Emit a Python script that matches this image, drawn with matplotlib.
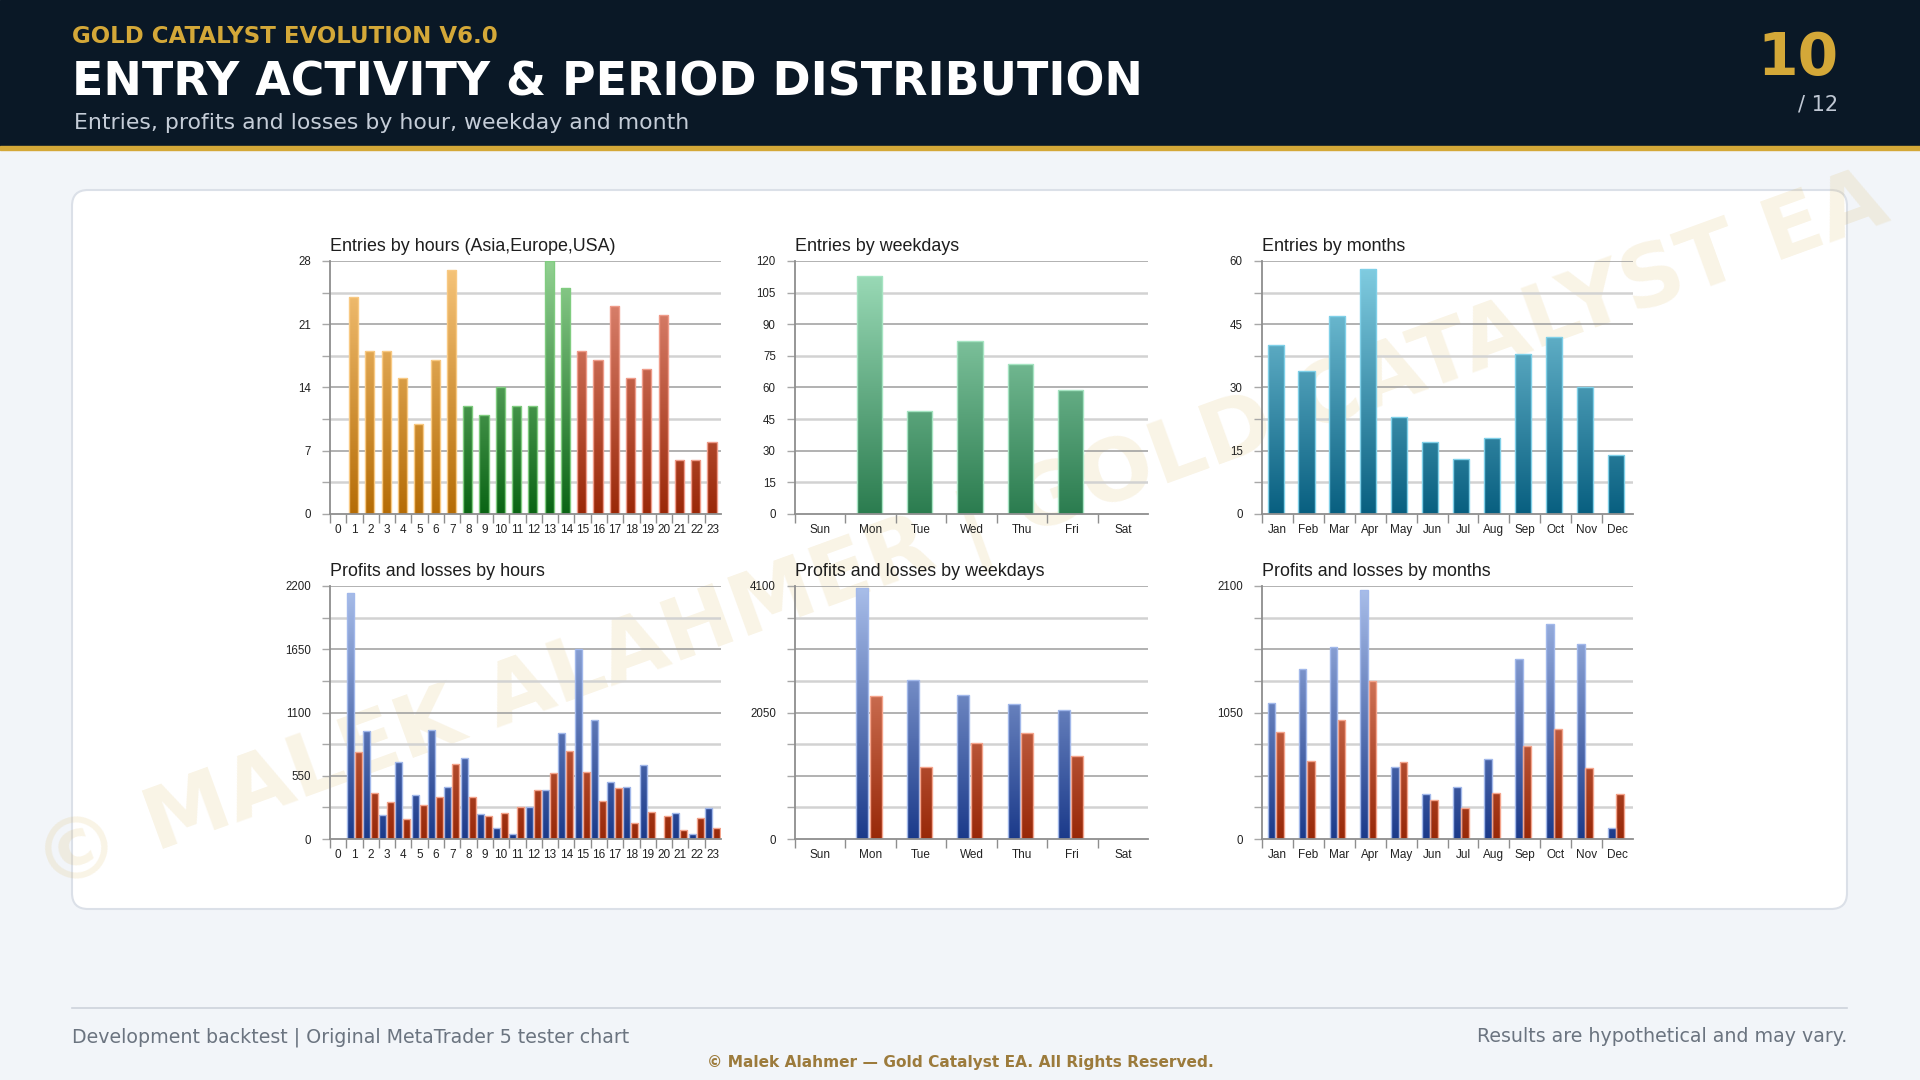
import numpy as np
import matplotlib
matplotlib.use("Agg")
import matplotlib.pyplot as plt
from matplotlib.colors import LinearSegmentedColormap
from matplotlib.patches import Rectangle, FancyBboxPatch

# ---- data ----
hours = [str(h) for h in range(24)]
hour_session = ["asia"] * 8 + ["europe"] * 7 + ["usa"] * 9
hour_entries = [0, 24, 18, 18, 15, 10, 17, 27, 12, 11, 14, 12, 12, 28, 25, 18, 17, 23, 15, 16, 22, 6, 6, 8]
hour_profits = [0, 2136, 941, 211, 666, 385, 944, 449, 706, 217, 93, 43, 275, 423, 918, 1650, 1036, 495, 449, 646, 0, 223, 46, 269]
hour_losses = [0, 756, 397, 321, 174, 292, 365, 648, 368, 197, 223, 275, 423, 573, 761, 579, 327, 446, 139, 237, 200, 75, 182, 93]

weekdays = ["Sun", "Mon", "Tue", "Wed", "Thu", "Fri", "Sat"]
weekday_entries = [0, 113, 49, 82, 71, 59, 0]
weekday_profits = [0, 4075, 2580, 2340, 2190, 2095, 0]
weekday_losses = [0, 2320, 1160, 1555, 1715, 1340, 0]

months = ["Jan", "Feb", "Mar", "Apr", "May", "Jun", "Jul", "Aug", "Sep", "Oct", "Nov", "Dec"]
month_entries = [40, 34, 47, 58, 23, 17, 13, 18, 38, 42, 30, 14]
month_profits = [1130, 1415, 1590, 2065, 595, 375, 430, 665, 1490, 1785, 1615, 95]
month_losses = [885, 645, 985, 1310, 635, 325, 260, 380, 775, 915, 590, 370]

# ---- styling ----
W, H = 1920, 1080
GOLD = "#d4a838"
NAVY = "#0a1826"
CHART_FONT = "Liberation Sans"

# (bottom colour, top colour, edge colour)
PALETTE = {
    "asia": ("#b56c06", "#f7c67c", "#f8c983"),
    "europe": ("#0a6414", "#92d192", "#80cc80"),
    "usa": ("#9a2808", "#e4907e", "#ef9c8a"),
    "weekday": ("#2b7c4f", "#a0dfbc", "#a6e4c2"),
    "month": ("#085f80", "#84cfe3", "#80d0e8"),
    "profit": ("#1b3a8a", "#aabfea", "#a2b8ea"),
    "loss": ("#982808", "#ee9e84", "#f4a48c"),
}
GRAD = np.linspace(0, 1, 256).reshape(-1, 1)


def cmap_for(key):
    lo, hi, _ = PALETTE[key]
    return LinearSegmentedColormap.from_list(key, [lo, hi])


def grad_bars(ax, x, heights, width, keys, ymax):
    edges = [PALETTE[k][2] for k in keys]
    bars = ax.bar(x, heights, width, facecolor="none", edgecolor=edges, linewidth=1.0, zorder=4)
    for b, k in zip(bars, keys):
        if b.get_height() <= 0:
            b.set_linewidth(0)
            continue
        x0 = b.get_x()
        im = ax.imshow(GRAD, extent=(x0, x0 + b.get_width(), 0, ymax), origin="lower",
                       cmap=cmap_for(k), aspect="auto", interpolation="bilinear", zorder=3)
        im.set_clip_path(b)
    return bars


def setup_axes(ax, labels, ymax, step, label_step, title):
    n = len(labels)
    levels = np.arange(0, ymax + step / 2, step)
    for k, lv in enumerate(levels):
        if k == 0:
            continue
        dark = (len(levels) - 1 - k) % 2 == 0
        ax.axhline(lv, color="#9c9c9c" if dark else "#d2d2d2", lw=1.1 if dark else 1.8, zorder=1)
    ax.set_xlim(-0.5, n - 0.5)
    ax.set_ylim(0, ymax)
    ax.set_facecolor("none")
    for s in ["top", "right"]:
        ax.spines[s].set_visible(False)
    for s in ["left", "bottom"]:
        ax.spines[s].set_color("#8e8e8e")
        ax.spines[s].set_linewidth(1.3)
        ax.spines[s].set_zorder(5)

    ylabels = []
    for lv in levels:
        q = lv / label_step
        ylabels.append(f"{lv:g}" if abs(q - round(q)) < 1e-9 else "")
    ax.set_yticks(levels)
    ax.set_yticklabels(ylabels)
    ax.tick_params(axis="y", length=5.8, width=1, color="#a8a8a8", pad=8,
                   labelsize=8.3, labelcolor="#222222")

    ax.set_xticks(range(n))
    ax.set_xticklabels(labels)
    ax.set_xticks(np.arange(n) - 0.5, minor=True)
    ax.tick_params(axis="x", which="major", length=0, pad=7, labelsize=8.5, labelcolor="#222222")
    ax.tick_params(axis="x", which="minor", length=6.5, width=1, color="#8e8e8e")
    for lab in ax.get_xticklabels() + ax.get_yticklabels():
        lab.set_family(CHART_FONT)
    ax.set_title(title, loc="left", pad=7, fontsize=12.9, family=CHART_FONT, color="#1e1e1e")


fig = plt.figure(figsize=(W / 100, H / 100), dpi=100, facecolor="#f2f5f9")

# background layer in pixel coordinates
bg = fig.add_axes([0, 0, 1, 1], zorder=-5)
bg.set_xlim(0, W)
bg.set_ylim(H, 0)
bg.axis("off")
bg.add_patch(Rectangle((0, 0), W, 146, color=NAVY, zorder=1))
bg.add_patch(Rectangle((0, 146), W, 4, color=GOLD, zorder=2))
bg.add_patch(FancyBboxPatch((72, 190), 1775, 719, boxstyle="round,pad=0,rounding_size=16",
                            facecolor="white", edgecolor="#dbe0e8", linewidth=1.5, zorder=1))
bg.text(962, 535, "© MALEK ALAHMER | GOLD CATALYST EA", rotation=20, rotation_mode="anchor",
        ha="center", va="center", fontsize=62, fontweight="bold", color=GOLD, alpha=0.13, zorder=3)

bg.text(72, 43, "GOLD CATALYST EVOLUTION V6.0", fontsize=16.5, fontweight="bold", color=GOLD, va="baseline")
bg.text(72, 95, "ENTRY ACTIVITY & PERIOD DISTRIBUTION", fontsize=33, fontweight="bold", color="white", va="baseline")
bg.text(74, 129, "Entries, profits and losses by hour, weekday and month", fontsize=15.8, color="#c5cdd8", va="baseline")
bg.text(1838, 75, "10", fontsize=42, fontweight="bold", color=GOLD, ha="right", va="baseline")
bg.text(1838, 110, "/ 12", fontsize=15, color="#c0c8d4", ha="right", va="baseline")

bg.plot([72, 1847], [1008, 1008], color="#cdd3db", lw=1.2)
bg.text(72, 1037, "Development backtest | Original MetaTrader 5 tester chart", fontsize=13.7,
        color="#6b7480", va="center")
bg.text(1847, 1037, "Results are hypothetical and may vary.", fontsize=13.7, color="#6b7480",
        ha="right", va="center")
bg.text(960, 1063, "© Malek Alahmer — Gold Catalyst EA. All Rights Reserved.", fontsize=11.1,
        fontweight="bold", color="#9c7b3c", ha="center", va="center")


def chart_axes(left, top, width, height=253):
    return fig.add_axes([left / W, 1 - (top + height) / H, width / W, height / H])


cols = [(330, 391), (795, 353), (1262, 371)]
rows = [261, 586]

# entries by hours
ax = chart_axes(cols[0][0], rows[0], cols[0][1])
grad_bars(ax, np.arange(24) - 0.05, hour_entries, 0.56, hour_session, 28)
setup_axes(ax, hours, 28, 3.5, 7, "Entries by hours (Asia,Europe,USA)")

# entries by weekdays
ax = chart_axes(cols[1][0], rows[0], cols[1][1])
grad_bars(ax, np.arange(7) - 0.03, weekday_entries, 0.5, ["weekday"] * 7, 120)
setup_axes(ax, weekdays, 120, 15, 15, "Entries by weekdays")

# entries by months
ax = chart_axes(cols[2][0], rows[0], cols[2][1])
grad_bars(ax, np.arange(12) - 0.06, month_entries, 0.52, ["month"] * 12, 60)
setup_axes(ax, months, 60, 7.5, 15, "Entries by months")

# profits and losses by hours
ax = chart_axes(cols[0][0], rows[1], cols[0][1])
grad_bars(ax, np.arange(24) - 0.27, hour_profits, 0.43, ["profit"] * 24, 2200)
grad_bars(ax, np.arange(24) + 0.22, hour_losses, 0.43, ["loss"] * 24, 2200)
setup_axes(ax, hours, 2200, 275, 550, "Profits and losses by hours")

# profits and losses by weekdays
ax = chart_axes(cols[1][0], rows[1], cols[1][1])
grad_bars(ax, np.arange(7) - 0.165, weekday_profits, 0.235, ["profit"] * 7, 4100)
grad_bars(ax, np.arange(7) + 0.1, weekday_losses, 0.235, ["loss"] * 7, 4100)
setup_axes(ax, weekdays, 4100, 512.5, 2050, "Profits and losses by weekdays")

# profits and losses by months
ax = chart_axes(cols[2][0], rows[1], cols[2][1])
grad_bars(ax, np.arange(12) - 0.19, month_profits, 0.25, ["profit"] * 12, 2100)
grad_bars(ax, np.arange(12) + 0.075, month_losses, 0.25, ["loss"] * 12, 2100)
setup_axes(ax, months, 2100, 262.5, 1050, "Profits and losses by months")

fig.savefig("out.png", dpi=100, facecolor=fig.get_facecolor())
